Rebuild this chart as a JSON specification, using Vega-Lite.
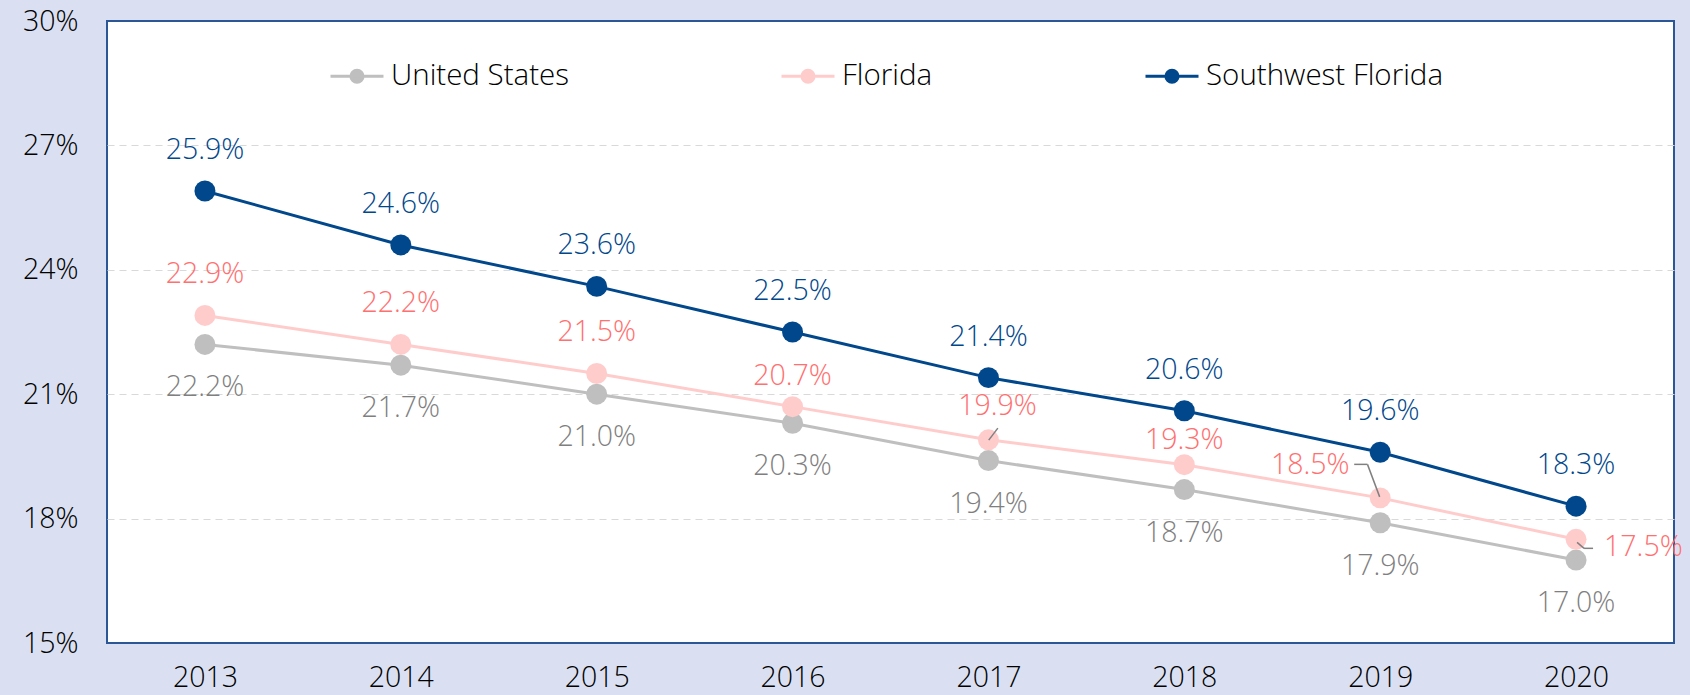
{
  "$schema": "https://vega.github.io/schema/vega-lite/v6.json",
  "autosize": "none",
  "width": 1567,
  "height": 622,
  "padding": {"left": 107, "top": 21, "right": 16, "bottom": 52},
  "background": "#dae0f2",
  "config": {
    "font": "Open Sans",
    "view": {"fill": "#ffffff", "stroke": "#2b5797", "strokeWidth": 2},
    "text": {"fontWeight": 300}
  },
  "data": {
    "values": [
      {"year": "2013", "series": "United States", "value": 0.222},
      {"year": "2014", "series": "United States", "value": 0.217},
      {"year": "2015", "series": "United States", "value": 0.210},
      {"year": "2016", "series": "United States", "value": 0.203},
      {"year": "2017", "series": "United States", "value": 0.194},
      {"year": "2018", "series": "United States", "value": 0.187},
      {"year": "2019", "series": "United States", "value": 0.179},
      {"year": "2020", "series": "United States", "value": 0.170},
      {"year": "2013", "series": "Florida", "value": 0.229},
      {"year": "2014", "series": "Florida", "value": 0.222},
      {"year": "2015", "series": "Florida", "value": 0.215},
      {"year": "2016", "series": "Florida", "value": 0.207},
      {"year": "2017", "series": "Florida", "value": 0.199},
      {"year": "2018", "series": "Florida", "value": 0.193},
      {"year": "2019", "series": "Florida", "value": 0.185},
      {"year": "2020", "series": "Florida", "value": 0.175},
      {"year": "2013", "series": "Southwest Florida", "value": 0.259},
      {"year": "2014", "series": "Southwest Florida", "value": 0.246},
      {"year": "2015", "series": "Southwest Florida", "value": 0.236},
      {"year": "2016", "series": "Southwest Florida", "value": 0.225},
      {"year": "2017", "series": "Southwest Florida", "value": 0.214},
      {"year": "2018", "series": "Southwest Florida", "value": 0.206},
      {"year": "2019", "series": "Southwest Florida", "value": 0.196},
      {"year": "2020", "series": "Southwest Florida", "value": 0.183}
    ]
  },
  "encoding": {
    "x": {
      "field": "year", "type": "ordinal",
      "scale": {"type": "point", "padding": 0.5},
      "axis": {"title": null, "labelAngle": 0, "labelFontSize": 28.5, "labelFontWeight": 300, "labelColor": "#000000", "labelPadding": 20, "domain": false, "ticks": false, "grid": false}
    },
    "y": {
      "field": "value", "type": "quantitative",
      "scale": {"domain": [0.15, 0.30], "zero": false, "nice": false},
      "axis": {"title": null, "values": [0.15, 0.18, 0.21, 0.24, 0.27, 0.30], "format": ".0%", "labelFontSize": 28.5, "labelFontWeight": 300, "labelColor": "#000000", "labelPadding": 29, "domain": false, "ticks": false, "grid": true,
        "gridColor": {"condition": {"test": "datum.value < 0.16 || datum.value > 0.29", "value": "transparent"}, "value": "#d9d9d9"},
        "gridDash": [7, 5], "gridWidth": 1.2}
    }
  },
  "layer": [
    {
      "mark": {"type": "line"},
      "encoding": {
        "color": {
          "field": "series", "type": "nominal",
          "scale": {"domain": ["United States", "Florida", "Southwest Florida"], "range": ["#bfbfbf", "#ffcccc", "#00478b"]},
          "legend": {
            "orient": "none", "legendX": 222, "legendY": 27, "direction": "horizontal", "title": null,
            "symbolType": "M-1,0L1,0M-0.23,0A0.23,0.23,0,1,1,0.23,0A0.23,0.23,0,1,1,-0.23,0Z",
            "symbolSize": 2809, "symbolStrokeWidth": 3,
            "labelFontSize": 29.5, "labelFont": "Open Sans", "labelFontWeight": 300, "labelColor": "#000000", "labelOffset": 6, "labelLimit": 500,
            "columnPadding": 206,
            "encode": {"symbols": {"update": {"fill": {"scale": "color", "field": "value"}, "stroke": {"scale": "color", "field": "value"}, "opacity": {"value": 1}}}}
          }
        },
        "strokeWidth": {
          "field": "series", "type": "nominal",
          "scale": {"domain": ["United States", "Florida", "Southwest Florida"], "range": [3, 3, 4]},
          "legend": null
        }
      }
    },
    {
      "mark": {"type": "point", "filled": true, "size": 440, "opacity": 1},
      "encoding": {
        "color": {"field": "series", "type": "nominal", "scale": {"domain": ["United States", "Florida", "Southwest Florida"], "range": ["#bfbfbf", "#ffcccc", "#00478b"]}, "legend": null}
      }
    },
    {
      "transform": [{"filter": "datum.series == 'Florida' && datum.year == '2017'"}],
      "mark": {"type": "rule", "color": "#808080", "strokeWidth": 1.5, "xOffset": 0.3, "yOffset": 0.3, "x2Offset": 9.4, "y2Offset": -11.7},
      "encoding": {"x2": {"field": "year"}, "y2": {"field": "value"}}
    },
    {
      "transform": [{"filter": "datum.series == 'Florida' && datum.year == '2019'"}],
      "mark": {"type": "rule", "color": "#808080", "strokeWidth": 1.5, "xOffset": -26, "yOffset": -33.5, "x2Offset": -12.7, "y2Offset": -33.5},
      "encoding": {"x2": {"field": "year"}, "y2": {"field": "value"}}
    },
    {
      "transform": [{"filter": "datum.series == 'Florida' && datum.year == '2019'"}],
      "mark": {"type": "rule", "color": "#808080", "strokeWidth": 1.5, "xOffset": -12.7, "yOffset": -33.5, "x2Offset": -0.5, "y2Offset": -1},
      "encoding": {"x2": {"field": "year"}, "y2": {"field": "value"}}
    },
    {
      "transform": [{"filter": "datum.series == 'Florida' && datum.year == '2020'"}],
      "mark": {"type": "rule", "color": "#808080", "strokeWidth": 1.5, "xOffset": 1, "yOffset": 3, "x2Offset": 8, "y2Offset": 9},
      "encoding": {"x2": {"field": "year"}, "y2": {"field": "value"}}
    },
    {
      "transform": [{"filter": "datum.series == 'Florida' && datum.year == '2020'"}],
      "mark": {"type": "rule", "color": "#808080", "strokeWidth": 1.5, "xOffset": 8, "yOffset": 9, "x2Offset": 17, "y2Offset": 9},
      "encoding": {"x2": {"field": "year"}, "y2": {"field": "value"}}
    },
    {
      "transform": [{"filter": "datum.series == 'Southwest Florida'"}],
      "mark": {"type": "text", "fontSize": 28.5, "color": "#00478b", "baseline": "middle", "dy": -41},
      "encoding": {"text": {"field": "value", "type": "quantitative", "format": ".1%"}}
    },
    {
      "transform": [{"filter": "datum.series == 'United States'"}],
      "mark": {"type": "text", "fontSize": 28.5, "color": "#7f7f7f", "baseline": "middle", "dy": 43},
      "encoding": {"text": {"field": "value", "type": "quantitative", "format": ".1%"}}
    },
    {
      "transform": [{"filter": "datum.series == 'Florida' && datum.year <= '2015'"}],
      "mark": {"type": "text", "fontSize": 28.5, "color": "#ff7070", "baseline": "middle", "dy": -41},
      "encoding": {"text": {"field": "value", "type": "quantitative", "format": ".1%"}}
    },
    {
      "transform": [{"filter": "datum.series == 'Florida' && datum.year == '2016'"}],
      "mark": {"type": "text", "fontSize": 28.5, "color": "#ff7070", "baseline": "middle", "dy": -31},
      "encoding": {"text": {"field": "value", "type": "quantitative", "format": ".1%"}}
    },
    {
      "transform": [{"filter": "datum.series == 'Florida' && datum.year == '2017'"}],
      "mark": {"type": "text", "fontSize": 28.5, "color": "#ff7070", "baseline": "middle", "dx": 9, "dy": -34},
      "encoding": {"text": {"field": "value", "type": "quantitative", "format": ".1%"}}
    },
    {
      "transform": [{"filter": "datum.series == 'Florida' && datum.year == '2018'"}],
      "mark": {"type": "text", "fontSize": 28.5, "color": "#ff7070", "baseline": "middle", "dy": -25},
      "encoding": {"text": {"field": "value", "type": "quantitative", "format": ".1%"}}
    },
    {
      "transform": [{"filter": "datum.series == 'Florida' && datum.year == '2019'"}],
      "mark": {"type": "text", "fontSize": 28.5, "color": "#ff7070", "baseline": "middle", "dx": -70, "dy": -33},
      "encoding": {"text": {"field": "value", "type": "quantitative", "format": ".1%"}}
    },
    {
      "transform": [{"filter": "datum.series == 'Florida' && datum.year == '2020'"}],
      "mark": {"type": "text", "fontSize": 28.5, "color": "#ff7070", "baseline": "middle", "align": "left", "dx": 28, "dy": 8},
      "encoding": {"text": {"field": "value", "type": "quantitative", "format": ".1%"}}
    }
  ]
}
